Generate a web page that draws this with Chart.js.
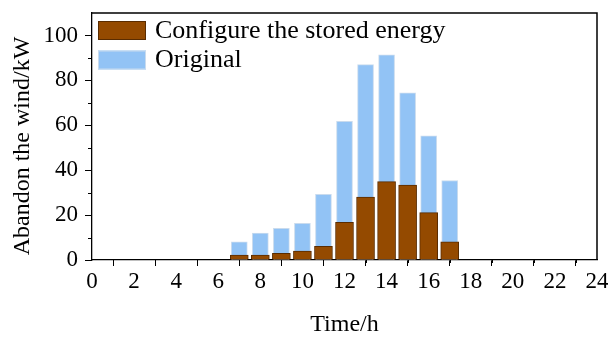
<!DOCTYPE html>
<html>
<head>
<meta charset="utf-8">
<script src="https://cdn.jsdelivr.net/npm/chart.js@4/dist/chart.umd.min.js"></script>
<style>
  html, body { margin: 0; padding: 0; background: #fff; }
  #wind { display: block; }
</style>
</head>
<body>
<canvas id="wind" width="608" height="340"></canvas>
<script>
// hourly curtailed wind power, kW
const hours = [7, 8, 9, 10, 11, 12, 13, 14, 15, 16, 17];
const storedEnergy = [2.2, 2.2, 3.0, 4.0, 6.1, 16.8, 28.0, 34.9, 33.4, 21.1, 8.1];
const original = [8.1, 12.0, 14.1, 16.3, 29.2, 61.8, 87.0, 91.4, 74.5, 55.3, 35.4];
const seriesNames = ['Configure the stored energy', 'Original'];
const xTicks = [0, 2, 4, 6, 8, 10, 12, 14, 16, 18, 20, 22, 24];
const yTicks = [0, 20, 40, 60, 80, 100];
const yTitle = 'Abandon the wind/kW';

const serif = '"Liberation Serif", "Times New Roman", serif';

const toPoints = (vals) => hours.map((h, i) => ({ x: h, y: vals[i] }));

// box outline, minor ticks, y title and the inset legend
const extras = {
    id: 'extras',
    afterDraw(chart) {
        const { ctx, chartArea: a, scales } = chart;
        ctx.save();
        ctx.strokeStyle = '#000';
        ctx.lineWidth = 1.5;
        ctx.beginPath();
        ctx.moveTo(a.left, a.top);
        ctx.lineTo(a.right, a.top);
        ctx.lineTo(a.right, a.bottom);
        ctx.stroke();

        ctx.lineWidth = 1;
        ctx.beginPath();
        for (let v = 1; v < 24; v += 2) {
            const px = Math.round(scales.x.getPixelForValue(v)) + 0.5;
            ctx.moveTo(px, a.bottom);
            ctx.lineTo(px, a.bottom + 3);
        }
        for (let v = 10; v < 110; v += 20) {
            const py = Math.round(scales.y.getPixelForValue(v)) + 0.5;
            ctx.moveTo(a.left, py);
            ctx.lineTo(a.left - 4, py);
        }
        ctx.stroke();

        // rotated y axis title
        ctx.save();
        ctx.translate(23, 146);
        ctx.rotate(-Math.PI / 2);
        ctx.font = '24px ' + serif;
        ctx.fillStyle = '#000';
        ctx.textAlign = 'center';
        ctx.textBaseline = 'middle';
        ctx.fillText(yTitle, 0, 0);
        ctx.restore();

        // legend
        ctx.font = '26px ' + serif;
        ctx.textBaseline = 'middle';
        chart.data.datasets.forEach((ds, i) => {
            const y = 21 + i * 29.5;
            ctx.fillStyle = ds.backgroundColor;
            ctx.fillRect(98, y, 48, 19);
            ctx.strokeStyle = ds.borderColor;
            ctx.lineWidth = 1;
            ctx.strokeRect(98.5, y + 0.5, 47, 18);
            ctx.fillStyle = '#000';
            ctx.fillText(ds.label, 155, y + 10);
        });
        ctx.restore();
    }
};

new Chart(document.getElementById('wind'), {
    type: 'bar',
    data: {
        datasets: [
            {
                label: seriesNames[0],
                data: toPoints(storedEnergy),
                backgroundColor: '#944a00',
                borderColor: '#5a2c00',
                borderWidth: 1,
                barThickness: 18
            },
            {
                label: seriesNames[1],
                data: toPoints(original),
                backgroundColor: '#92c3f5',
                borderColor: '#c9dbee',
                borderWidth: 1,
                barThickness: 16
            }
        ]
    },
    options: {
        responsive: false,
        animation: false,
        grouped: false,
        layout: { padding: { top: 13, right: 11, left: 0, bottom: 0 } },
        plugins: { legend: { display: false }, tooltip: { enabled: false } },
        scales: {
            x: {
                type: 'linear',
                min: 0,
                max: 24,
                offset: false,
                afterBuildTicks: (s) => { s.ticks = xTicks.map(v => ({ value: v })); },
                afterFit: (s) => {
                    s.height = 80;
                    s.paddingLeft = 0;
                    s.paddingRight = 0;
                },
                ticks: {
                    color: '#000',
                    font: { family: serif, size: 23 },
                    padding: 2,
                    maxRotation: 0,
                    autoSkip: false
                },
                grid: { drawOnChartArea: false, tickLength: 6, tickColor: '#000', tickWidth: 1 },
                border: { color: '#000', width: 1.3 },
                title: {
                    display: true,
                    text: 'Time/h',
                    color: '#000',
                    font: { family: serif, size: 24 },
                    padding: { top: 0, bottom: 1 }
                }
            },
            y: {
                min: 0,
                max: 110,
                afterBuildTicks: (s) => { s.ticks = yTicks.map(v => ({ value: v })); },
                afterFit: (s) => {
                    s.width = 92;
                    s.paddingTop = 0;
                    s.paddingBottom = 0;
                },
                ticks: {
                    color: '#000',
                    font: { family: serif, size: 23 },
                    padding: 7
                },
                grid: { drawOnChartArea: false, tickLength: 7, tickColor: '#000', tickWidth: 1 },
                border: { color: '#000', width: 1.3 }
            }
        }
    },
    plugins: [extras]
});
</script>
</body>
</html>
